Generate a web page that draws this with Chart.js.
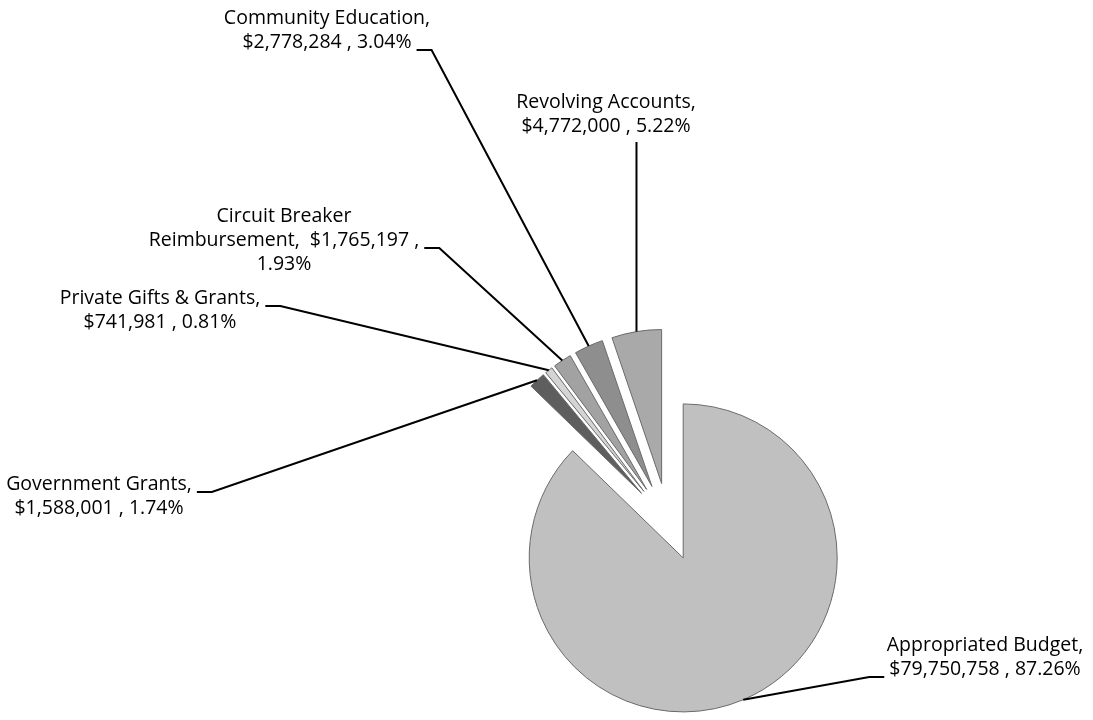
<!DOCTYPE html>
<html>
<head>
<meta charset="utf-8">
<script src="https://cdn.jsdelivr.net/npm/chart.js@4.4.1/dist/chart.umd.min.js"></script>
<style>
html, body { margin: 0; padding: 0; background: #fff; }
#wrap { position: relative; width: 1093px; height: 720px; }
</style>
</head>
<body>
<div id="wrap"><canvas id="budgetChart"></canvas></div>
<script>
// slice order is clockwise from 12 o'clock
const categories = ['Appropriated Budget', 'Government Grants', 'Private Gifts & Grants',
    'Circuit Breaker Reimbursement', 'Community Education', 'Revolving Accounts'];
const amounts = [79750758, 1588001, 741981, 1765197, 2778284, 4772000];
const sliceColors = ['#c0c0c0', '#5e5e5e', '#d4d4d4', '#a2a2a2', '#8e8e8e', '#a9a9a9'];

// where each data label sits (text centre x, first line centre y) and where its leader starts
const labelPos = [
    {x: 985, y: 645, side: 'left', line: 1},
    {x: 99, y: 484, side: 'right', line: 0},
    {x: 160, y: 298, side: 'right', line: 0},
    {x: 284, y: 216, side: 'right', line: 1},
    {x: 327, y: 18, side: 'right', line: 1},
    {x: 606, y: 102, side: 'bottom', line: 1}
];

const total = amounts.reduce((a, b) => a + b, 0);
const explodeBy = 39;
const lineH = 24;
const labelFont = '19.5px "Open Sans", Lato, sans-serif';

const money = v => '$' + v.toLocaleString('en-US');
const pct = v => (v / total * 100).toFixed(2) + '%';

const labelLines = (i) => {
    const name = categories[i], m = money(amounts[i]), p = pct(amounts[i]);
    if (i === 3) {
        // this one wrapped onto three lines in the original
        const w = name.split(' ');
        return [w.slice(0, 2).join(' '), w[2] + ',  ' + m + ' ,', p];
    }
    return [name + ',', m + ' , ' + p];
};

// every slice pushed out from the centre along its own middle angle
const explode = {
    id: 'explode',
    beforeDatasetsDraw(chart) {
        const area = chart.chartArea;
        const cx = (area.left + area.right) / 2;
        const cy = (area.top + area.bottom) / 2;
        chart.getDatasetMeta(0).data.forEach(arc => {
            const mid = (arc.startAngle + arc.endAngle) / 2;
            arc.x = cx + Math.cos(mid) * explodeBy;
            arc.y = cy + Math.sin(mid) * explodeBy;
        });
    }
};

const dataLabels = {
    id: 'dataLabels',
    afterDatasetsDraw(chart) {
        const ctx = chart.ctx;
        ctx.save();
        ctx.font = labelFont;
        ctx.fillStyle = '#000';
        ctx.textAlign = 'center';
        ctx.textBaseline = 'middle';
        ctx.strokeStyle = '#000';
        ctx.lineWidth = 2;
        chart.getDatasetMeta(0).data.forEach((arc, i) => {
            const pos = labelPos[i];
            const lines = labelLines(i);
            lines.forEach((t, k) => ctx.fillText(t, pos.x, pos.y + k * lineH));

            const mid = (arc.startAngle + arc.endAngle) / 2;
            const ex = arc.x + Math.cos(mid) * arc.outerRadius;
            const ey = arc.y + Math.sin(mid) * arc.outerRadius;
            const w = ctx.measureText(lines[pos.line]).width;
            const ly = pos.y + pos.line * lineH + 8;
            ctx.beginPath();
            if (pos.side === 'bottom') {
                ctx.moveTo(ex, pos.y + pos.line * lineH + 16);
                ctx.lineTo(ex, ey);
            } else if (pos.side === 'right') {
                const sx = pos.x + w / 2 + 5;
                ctx.moveTo(sx, ly);
                ctx.lineTo(sx + 15, ly);
                ctx.lineTo(ex, ey);
            } else {
                const sx = pos.x - w / 2 - 5;
                ctx.moveTo(sx, ly);
                ctx.lineTo(sx - 15, ly);
                ctx.lineTo(ex, ey);
            }
            ctx.stroke();
        });
        ctx.restore();
    }
};

const ctx = document.getElementById('budgetChart').getContext('2d');
const budgetChart = new Chart(ctx, {
    type: 'pie',
    data: {
        labels: categories,
        datasets: [{
            data: amounts,
            backgroundColor: sliceColors,
            borderColor: '#6a6a6a',
            borderWidth: 1
        }]
    },
    options: {
        responsive: true,
        maintainAspectRatio: false,
        devicePixelRatio: 1,
        animation: false,
        events: [],
        radius: 154,
        layout: {
            padding: {left: 368, right: 125, top: 332, bottom: 8}
        },
        plugins: {
            legend: {display: false},
            tooltip: {enabled: false}
        }
    },
    plugins: [explode, dataLabels]
});
</script>
</body>
</html>
